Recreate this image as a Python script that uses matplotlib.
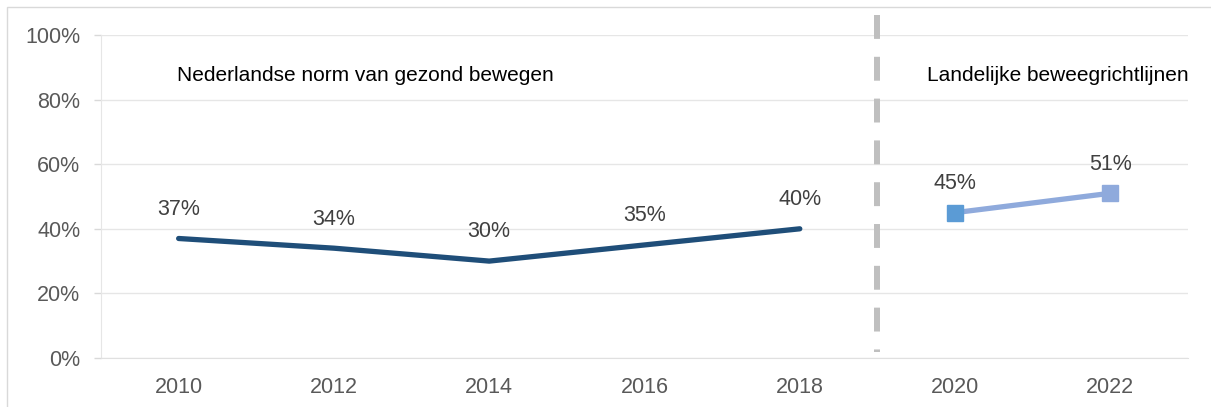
import matplotlib
matplotlib.use("Agg")
import matplotlib.pyplot as plt
from matplotlib.patches import Rectangle

years = ["2010", "2012", "2014", "2016", "2018", "2020", "2022"]
norm_years = ["2010", "2012", "2014", "2016", "2018"]
norm_values = [37, 34, 30, 35, 40]
guide_years = ["2020", "2022"]
guide_values = [45, 51]
yticks = [0, 20, 40, 60, 80, 100]
label_norm = "Nederlandse norm van gezond bewegen"
label_guide = "Landelijke beweegrichtlijnen"

plt.rcParams['font.family'] = ['Liberation Sans', 'DejaVu Sans']

fig = plt.figure(figsize=(12.11, 4.07), dpi=100)
ax = fig.add_axes([101/1211, 1-358/407, (1188-101)/1211, (358-35)/407])

# figure border (left and top)
fig.add_artist(Rectangle((7/1211, -0.1), 1.2, 1-7/407+0.1, transform=fig.transFigure,
                         fill=False, edgecolor='#D9D9D9', linewidth=1))

xi = {y: i for i, y in enumerate(years)}
nx = [xi[y] for y in norm_years]
gx = [xi[y] for y in guide_years]

ax.plot(nx, norm_values, color='#1F4E79', linewidth=3.8, solid_capstyle='round',
        solid_joinstyle='round', zorder=3)
ax.plot(gx, guide_values, color='#8FAADC', linewidth=3.8, zorder=3)
marker_colors = ['#5B9BD5', '#8FAADC']
for x, v, c in zip(gx, guide_values, marker_colors):
    ax.plot([x], [v], marker='s', markersize=12, color=c, zorder=4, linestyle='none')

for x, v in list(zip(nx, norm_values)) + list(zip(gx, guide_values)):
    ax.annotate(f"{v}%", (x, v), xytext=(0, 21), textcoords='offset points',
                ha='center', va='center', fontsize=15.5, color='#404040')

# dashed separator
sep_x = len(norm_years) - 0.5
ax.plot([sep_x, sep_x], [106.2, 1.9], color='#BFBFBF', linewidth=4.3,
        dashes=(4, 3), dash_capstyle='butt', clip_on=False, zorder=2)

ax.text(nx[0] - 0.01, 87.5, label_norm, fontsize=15, color='black', ha='left', va='center')
ax.text(gx[0] - 0.18, 87.5, label_guide, fontsize=15, color='black', ha='left', va='center')

ax.set_xlim(-0.5, len(years) - 0.5)
ax.set_ylim(0, 100)
ax.set_xticks(range(len(years)))
ax.set_xticklabels(years)
ax.set_yticks(yticks)
ax.set_yticklabels([f"{t}%" for t in yticks])
ax.tick_params(axis='x', length=0, pad=13.5, labelsize=15.5, labelcolor='#595959')
ax.tick_params(axis='y', length=5, width=1, color='#D9D9D9', pad=10,
               labelsize=15.5, labelcolor='#595959')
ax.grid(axis='y', color='#E6E6E6', linewidth=1)
ax.set_axisbelow(True)
for s in ['top', 'right']:
    ax.spines[s].set_visible(False)
ax.spines['left'].set_color('#E6E6E6')
ax.spines['bottom'].set_color('#E0E0E0')

fig.savefig("out.png", dpi=100)
